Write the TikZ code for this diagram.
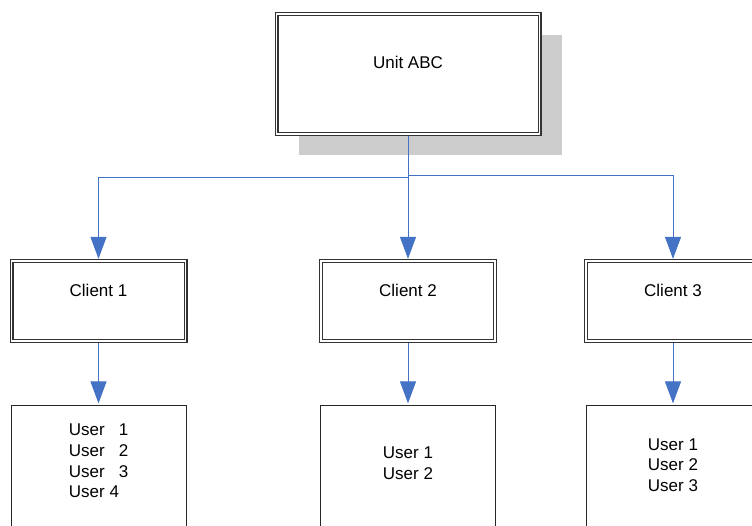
\documentclass[tikz,border=0pt]{standalone}
\usepackage{fontspec}
\setmainfont{Liberation Sans}
\usetikzlibrary{arrows.meta,positioning,shadows}
\definecolor{linkblue}{HTML}{4472C4}
\tikzset{
  framebox/.style={draw=black!80, double, double distance=1.8pt, line width=1.1pt,
    fill=white, inner sep=0pt},
  unitbox/.style={framebox, minimum width=263pt, minimum height=120pt,
    drop shadow={shadow xshift=22pt, shadow yshift=-21pt, fill=black!20, opacity=1}},
  clientbox/.style={framebox, minimum width=174pt, minimum height=80pt},
  userbox/.style={draw=black!85, line width=1pt, fill=white, inner sep=0pt,
    minimum width=175pt, minimum height=129pt},
  link/.style={linkblue, line width=1pt, -{Triangle[width=16pt,length=22pt]},
    shorten >=1.6pt, shorten <=1.6pt},
}

\begin{document}
\begin{tikzpicture}[x=1pt,y=-1pt,
    every node/.append style={font=\fontsize{17}{20.7}\selectfont}]
  \useasboundingbox (0,0) rectangle (752,525);

  % unit at the top
  \node[unitbox] (unit) at (408,74) {};
  \node (unittxt) at ([yshift=12pt]unit.center) {Unit ABC};

  % clients
  \node[clientbox] (client1) at (98.5,301) {};
  \node[clientbox] (client2) at (408,301) {};
  \node[clientbox] (client3) at (673,301) {};
  \foreach \i in {1,2,3}
    \node (clienttxt\i) at ([yshift=11pt]client\i.center) {Client \i};

  % user lists
  \node[userbox] (users1) at (98.5,470) {};
  \node[userbox] (users2) at (408,470) {};
  \node[userbox] (users3) at (673.5,470) {};
  \node[align=left] (userlist1) at (98.7,461)
    {User\ \ \ 1\\User\ \ \ 2\\User\ \ \ 3\\User 4};
  \node[align=center] (userlist2) at (408,463.5) {User 1\\User 2};
  \node[align=center] (userlist3) at (673,465) {User 1\\User 2\\User 3};

  % connectors
  \coordinate (busL) at (408,177.5);
  \coordinate (busR) at (408,175);
  \draw[link] (unit.south) -- (busL) -| (client1.north);
  \draw[link,shorten <=0pt] (busL) -- (client2.north);
  \draw[link,shorten <=0pt] (busR) -| (client3.north);
  \foreach \i in {1,2,3}
    \draw[link] (client\i.south) -- (client\i.south |- users\i.north);
\end{tikzpicture}
\end{document}
